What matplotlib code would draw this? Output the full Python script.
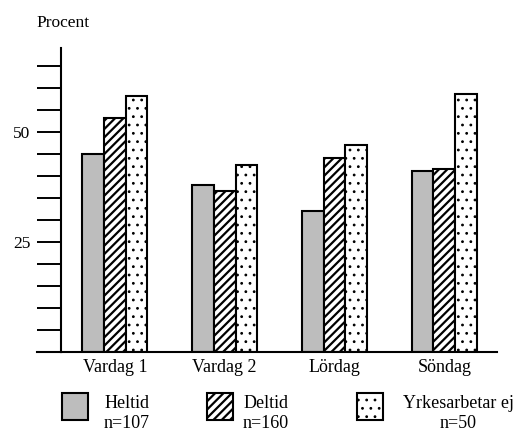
import matplotlib
matplotlib.use("Agg")
import matplotlib.pyplot as plt
from matplotlib.patches import Rectangle
import numpy as np

categories = ["Vardag 1", "Vardag 2", "Lördag", "Söndag"]
heltid = [45, 38, 32, 41]
deltid = [53, 36.5, 44, 41.5]
yrkes_ej = [58, 42.5, 47, 58.5]
series_names = ["Heltid", "Deltid", "Yrkesarbetar ej"]
series_n = ["n=107", "n=160", "n=50"]
ytick_major = [25, 50]

plt.rcParams['font.family'] = ['Liberation Serif', 'DejaVu Serif']

W, H = 513, 432
fig = plt.figure(figsize=(W / 100, H / 100), dpi=100)
ax = fig.add_axes([61 / W, 1 - 352 / H, (497 - 61) / W, (352 - 48) / H])

x = np.arange(len(categories))
bw = 0.198
styles = [
    dict(facecolor="#bdbdbd", hatch=None),
    dict(facecolor="white", hatch="////"),
    dict(facecolor="white", hatch=".."),
]
hatch_lw = [1.0, 1.6, 0.8]


def set_hlw(p, lw):
    if hasattr(p, "set_hatch_linewidth"):
        p.set_hatch_linewidth(lw)
    else:
        p._hatch_linewidth = lw


for i, (vals, st) in enumerate(zip([heltid, deltid, yrkes_ej], styles)):
    with plt.rc_context({"hatch.linewidth": hatch_lw[i]}):
        bars = ax.bar(x + (i - 1) * bw, vals, bw, edgecolor="black", linewidth=1.5, **st)
    for b in bars:
        set_hlw(b, hatch_lw[i])

ax.set_xlim(-0.49, 3.48)
ax.set_ylim(0, 69)
for s in ["top", "right"]:
    ax.spines[s].set_visible(False)
ax.spines["left"].set_linewidth(1.5)
ax.spines["bottom"].set_linewidth(1.5)
# extend baseline to the left
ax.plot([-24 / 110 - 0.49, -0.49], [0, 0], color="black", lw=1.5, clip_on=False)

ax.set_yticks(ytick_major)
ax.set_yticklabels([str(v) for v in ytick_major], fontsize=12.5)
ax.set_yticks([v for v in range(5, 70, 5) if v not in ytick_major], minor=True)
ax.tick_params(axis="y", which="both", direction="out", length=17, width=1.4, pad=5)
ax.set_xticks(x)
ax.set_xticklabels(categories, fontsize=13)
ax.tick_params(axis="x", length=0, pad=5)

fig.text(36 / W, 1 - 23 / H, "Procent", fontsize=12.5, ha="left", va="center")

# legend
patch_x = [62, 207, 357]
text_cx = [127, 266, 458]
for i, (px, tc, st, name, n) in enumerate(zip(patch_x, text_cx, styles, series_names, series_n)):
    with plt.rc_context({"hatch.linewidth": hatch_lw[i]}):
        r = Rectangle((px / W, 1 - 420 / H), 26 / W, 27 / H, transform=fig.transFigure,
                      edgecolor="black", linewidth=1.5, **st)
    set_hlw(r, hatch_lw[i])
    fig.add_artist(r)
    fig.text(tc / W, 1 - 404 / H, name, fontsize=13, ha="center", va="center")
    fig.text(tc / W, 1 - 424 / H, n, fontsize=13, ha="center", va="center")

fig.savefig("out.png", dpi=100)
